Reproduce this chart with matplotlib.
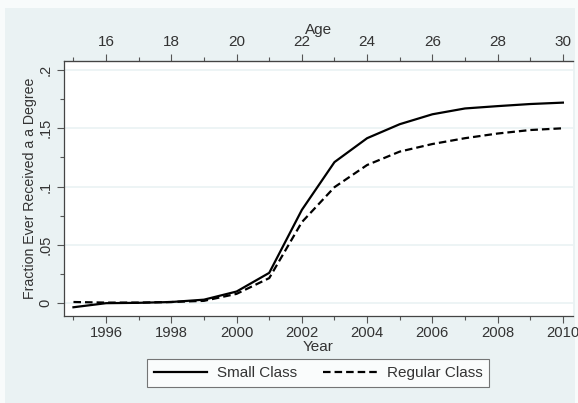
import numpy as np
import matplotlib.pyplot as plt
from matplotlib.ticker import MultipleLocator, FixedLocator
from matplotlib.patches import Rectangle

plt.rcParams['font.family'] = ['Liberation Sans', 'DejaVu Sans']

years = [1995, 1996, 1997, 1998, 1999, 2000, 2001, 2002, 2003,
         2004, 2005, 2006, 2007, 2008, 2009, 2010]
small = [-0.0035, 0.0, 0.0003, 0.001, 0.003, 0.010, 0.026, 0.080, 0.121,
         0.1415, 0.1535, 0.162, 0.167, 0.169, 0.1708, 0.172]
regular = [0.001, 0.0005, 0.0005, 0.001, 0.002, 0.008, 0.0215, 0.0695, 0.0995,
           0.1185, 0.130, 0.1365, 0.1415, 0.1455, 0.1485, 0.150]
yticks = [0, 0.05, 0.1, 0.15, 0.2]
ylabels = ['0', '.05', '.1', '.15', '.2']
age_ticks = [16, 18, 20, 22, 24, 26, 28, 30]

bg = '#eaf2f3'
fig = plt.figure(figsize=(5.78, 4.03), dpi=100, facecolor='#f8fbfb')
# graph region sits inside a thin pale border
fig.patches.append(Rectangle((5/578, 0), 570/578, 1-8/403, transform=fig.transFigure,
                             facecolor=bg, edgecolor='none', zorder=-10))
ax = fig.add_axes([64/578, 1-316/403, (573-64)/578, (316-61)/403])
ax.set_facecolor('white')

ax.plot(years, small, color='black', lw=1.6, label='Small Class')
ax.plot(years, regular, color='black', lw=1.6, ls=(0, (3.4, 1.8)), label='Regular Class')

ax.set_xlim(1994.71, 2010.31)
ax.set_ylim(-0.011, 0.2077)

ax.set_yticks(yticks)
ax.set_yticklabels(ylabels, rotation=90, va='center', fontsize=10.5, color='#333333')
ax.yaxis.set_minor_locator(MultipleLocator(0.025))
ax.set_xticks(range(1996, 2011, 2))
ax.xaxis.set_minor_locator(FixedLocator(range(1995, 2011, 2)))
ax.tick_params(axis='x', labelsize=10.6, labelcolor='#333333', pad=2)
ax.tick_params(which='both', color='#555555', width=0.8)
ax.tick_params(which='major', length=5)
ax.tick_params(which='minor', length=3)
ax.grid(axis='y', which='major', color='#eaf2f3', lw=1.2)
ax.set_axisbelow(True)

ax.spines['right'].set_visible(False)
for side in ['left', 'bottom', 'top']:
    ax.spines[side].set_color('#444444')
    ax.spines[side].set_linewidth(0.9)

ax.set_xlabel('Year', fontsize=11, color='#333333', labelpad=0)
ax.set_ylabel('Fraction Ever Received a a Degree', fontsize=10.2, color='#333333', labelpad=1)

top = ax.secondary_xaxis('top', functions=(lambda x: x - 1980, lambda a: a + 1980))
top.set_xticks(age_ticks)
top.xaxis.set_minor_locator(FixedLocator(range(15, 31, 2)))
top.tick_params(which='both', color='#555555', width=0.8, labelsize=11, labelcolor='#333333')
top.tick_params(which='major', length=5)
top.tick_params(which='minor', length=3)
top.spines['top'].set_color('#444444')
top.set_xlabel('Age', fontsize=11, color='#333333', labelpad=1)

leg = fig.legend(loc='center', bbox_to_anchor=(318/578, 1-373/403), ncol=2,
                 frameon=True, fancybox=False, fontsize=11, handlelength=3.5,
                 handletextpad=0.65, columnspacing=1.7, borderpad=0.45)
leg.get_frame().set_edgecolor('#555555')
leg.get_frame().set_linewidth(0.8)
for t in leg.get_texts():
    t.set_color('#333333')

fig.savefig('out.png', dpi=100, facecolor=fig.get_facecolor())
